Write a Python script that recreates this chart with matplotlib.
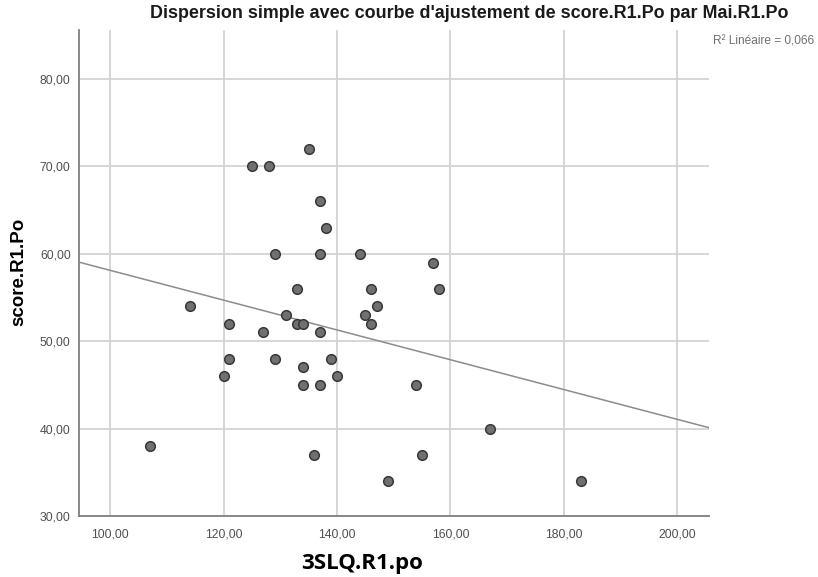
import numpy as np
import matplotlib
matplotlib.use("Agg")
import matplotlib.pyplot as plt
from matplotlib.ticker import FuncFormatter

# donnees (3SLQ.R1.po, score.R1.Po)
x_vals = [107, 114, 120, 121, 121, 125, 128, 127, 129, 129, 131, 133, 133,
          134, 134, 134, 135, 136, 137, 137, 137, 137, 138, 139, 140, 144,
          145, 146, 146, 147, 149, 154, 155, 157, 158, 167, 183]
y_vals = [38, 54, 46, 52, 48, 70, 70, 51, 60, 48, 53, 56, 52,
          52, 47, 45, 72, 37, 66, 60, 51, 45, 63, 48, 46, 60,
          53, 56, 52, 54, 34, 45, 37, 59, 56, 40, 34]
x_ticks = [100, 120, 140, 160, 180, 200]
y_ticks = [30, 40, 50, 60, 70, 80]

titre = "Dispersion simple avec courbe d'ajustement de score.R1.Po par Mai.R1.Po"
r2_texte = "R\u00b2 Lin\u00e9aire = 0,066"

plt.rcParams['font.family'] = ['Liberation Sans', 'DejaVu Sans']

fig = plt.figure(figsize=(8.18, 5.77), dpi=100)
ax = fig.add_axes([79/818, 1-516/577, (709-79)/818, (516-30)/577])

xmin, xmax = 94.5, 205.6
ymin, ymax = 30, 85.6

# droite d'ajustement lineaire
pente, origine = np.polyfit(x_vals, y_vals, 1)
xl = np.array([xmin, xmax])
ax.plot(xl, pente*xl + origine, color="#8c8c8c", lw=1.1, zorder=3)

ax.scatter(x_vals, y_vals, s=48, facecolor="#707070", edgecolor="#383838",
           linewidth=1.1, zorder=4)

ax.set_xlim(xmin, xmax)
ax.set_ylim(ymin, ymax)
ax.set_xticks(x_ticks)
ax.set_yticks(y_ticks)
fmt = FuncFormatter(lambda v, p: ("%.2f" % v).replace(".", ","))
ax.xaxis.set_major_formatter(fmt)
ax.yaxis.set_major_formatter(fmt)
ax.tick_params(length=0, labelsize=8.8, labelcolor="#505050")
ax.tick_params(axis='x', pad=9)
ax.tick_params(axis='y', pad=6)
ax.grid(True, color="#d0d0d0", lw=1.2)
ax.set_axisbelow(True)
for s in ["top", "right"]:
    ax.spines[s].set_visible(False)
for s in ["left", "bottom"]:
    ax.spines[s].set_color("#808080")
    ax.spines[s].set_linewidth(1.3)

fig.text(469/818, 1-14/577, titre, ha="center", va="center", fontsize=12.9,
         fontweight="bold", color="#1a1a1a")
fig.text(713/818, 1-42/577, r2_texte, ha="left", va="center", fontsize=8.6,
         color="#707070")
fig.text(19/818, 1-272/577, "score.R1.Po", rotation=90, ha="center",
         va="center", fontsize=13.5, fontweight="bold")
fig.text(362/818, 1-563/577, "3SLQ.R1.po", ha="center", va="center",
         fontsize=16, fontweight="bold", family=["Open Sans", "DejaVu Sans"])

fig.savefig("out.png", dpi=100)
